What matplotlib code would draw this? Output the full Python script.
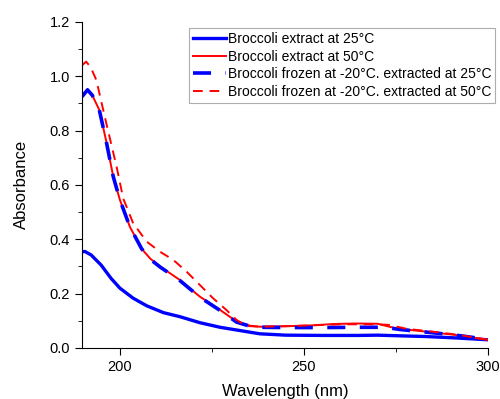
import matplotlib
matplotlib.use("Agg")
import matplotlib.pyplot as plt
from matplotlib.ticker import MultipleLocator

plt.rcParams['font.family'] = ['Liberation Sans', 'DejaVu Sans']

wl_25 = [189.7, 190.5, 192.2, 194.9, 197.6, 200, 203.6, 207.3, 211.8, 216.3, 221.7, 227.2, 232.6, 238, 245, 255, 265, 270, 275, 283, 291, 300]
abs_25 = [0.354, 0.355, 0.342, 0.305, 0.256, 0.22, 0.183, 0.155, 0.13, 0.115, 0.093, 0.076, 0.064, 0.052, 0.047, 0.046, 0.046, 0.047, 0.045, 0.042, 0.037, 0.03]

wl_50 = [189.7, 191.2, 192.5, 194.4, 196.2, 198.2, 200, 202.7, 205.9, 208.3, 210.9, 216.3, 221.7, 227.2, 231.7, 235.3, 238, 245.6, 252, 258, 264, 270, 275, 283, 291, 300]
abs_50 = [0.925, 0.952, 0.93, 0.876, 0.766, 0.63, 0.545, 0.446, 0.365, 0.328, 0.3, 0.25, 0.189, 0.14, 0.097, 0.082, 0.078, 0.08, 0.083, 0.088, 0.09, 0.089, 0.072, 0.06, 0.048, 0.03]

wl_f25 = [189.7, 191.2, 192.5, 194.4, 196.2, 198.2, 200, 202.7, 205.9, 208.3, 210.9, 216.3, 221.7, 227.2, 231.7, 235.3, 238, 245, 255, 265, 272, 276, 287, 293, 300]
abs_f25 = [0.925, 0.95, 0.93, 0.876, 0.766, 0.63, 0.545, 0.446, 0.365, 0.326, 0.298, 0.248, 0.187, 0.138, 0.095, 0.08, 0.076, 0.075, 0.075, 0.076, 0.076, 0.068, 0.053, 0.044, 0.031]

wl_f50 = [189.7, 190.8, 192, 193.6, 196.3, 199.1, 200.9, 203.6, 207.3, 210.9, 214.5, 218.1, 221.7, 225.3, 228.9, 231.7, 234.4, 238, 245, 252, 260, 270, 273, 278, 285, 292, 300]
abs_f50 = [1.04, 1.054, 1.035, 0.986, 0.827, 0.667, 0.55, 0.459, 0.391, 0.354, 0.324, 0.281, 0.232, 0.183, 0.14, 0.103, 0.081, 0.078, 0.08, 0.083, 0.087, 0.087, 0.085, 0.07, 0.06, 0.048, 0.03]

labels = ["Broccoli extract at 25°C", "Broccoli extract at 50°C",
          "Broccoli frozen at -20°C. extracted at 25°C", "Broccoli frozen at -20°C. extracted at 50°C"]

fig = plt.figure(figsize=(5.0, 3.99), dpi=100)
ax = fig.add_axes([0.164, 0.128, 0.812, 0.817])

ax.plot(wl_25, abs_25, color='#0000ff', lw=2.4, label=labels[0])
ax.plot(wl_50, abs_50, color='#ff0000', lw=1.4, label=labels[1])
ax.plot(wl_f25, abs_f25, color='#0000ff', lw=2.6, dashes=(5, 4), label=labels[2])
ax.plot(wl_f50, abs_f50, color='#ff0000', lw=1.4, dashes=(5, 3.5), label=labels[3])

ax.set_xlim(189.7, 300)
ax.set_ylim(0, 1.2)
ax.xaxis.set_major_locator(MultipleLocator(50))
ax.xaxis.set_minor_locator(MultipleLocator(25))
ax.yaxis.set_major_locator(MultipleLocator(0.2))
ax.yaxis.set_minor_locator(MultipleLocator(0.1))
ax.yaxis.set_major_formatter(plt.FuncFormatter(lambda v, p: f"{v:.1f}"))
for s in ['top', 'right']:
    ax.spines[s].set_visible(False)
ax.tick_params(which='major', direction='out', length=5, labelsize=10.5)
ax.tick_params(which='minor', direction='out', length=3)
ax.set_xlabel("Wavelength (nm)", fontsize=12, labelpad=7.5)
ax.set_ylabel("Absorbance", fontsize=12, labelpad=15)

leg = ax.legend(loc='upper right', bbox_to_anchor=(1.025, 0.99), fontsize=10, frameon=True, fancybox=False,
                edgecolor='#999999', handlelength=2.4, handletextpad=0.1, borderpad=0.3, labelspacing=0.25,
                borderaxespad=0.2)
leg.get_frame().set_linewidth(0.8)

fig.savefig("out.png", dpi=100)
